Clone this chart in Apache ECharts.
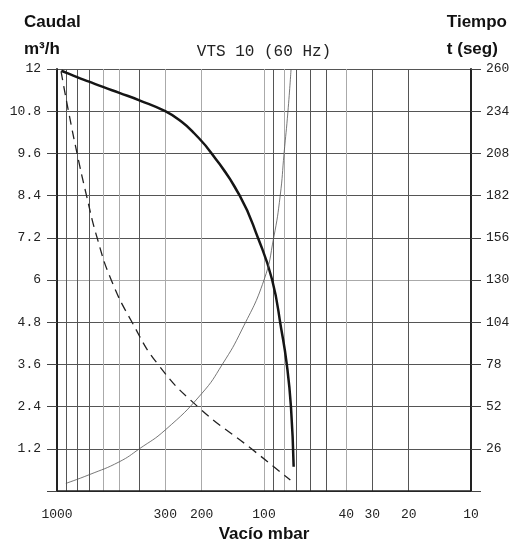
<!DOCTYPE html>
<html lang="es">
<head>
    <meta charset="UTF-8"/>
    <title>VTS 10 (60 Hz)</title>
    <script src="https://cdn.jsdelivr.net/npm/echarts@6/dist/echarts.min.js"></script>
</head>
<body style="margin:0">
<div id="main" style="width: 528px;height:543px;"></div>
<script type="text/javascript">
    // vacuum grid (mbar), log scale
    var gridPressures = [1000, 900, 800, 700, 600, 500, 400, 300, 200, 100, 90, 80, 70, 60, 50, 40, 30, 20, 10];
    var labelPressures = [1000, 300, 200, 100, 40, 30, 20, 10];

    // caudal m3/h  [pressure, value]
    var caudalSolid = [[953, 11.95], [900, 11.89], [800, 11.77], [700, 11.64], [600, 11.49], [500, 11.32],
        [400, 11.11], [300, 10.8], [250, 10.5], [218, 10.18], [179, 9.6], [131, 8.4], [107, 7.2], [91.3, 6.0],
        [82.5, 4.6], [77.6, 3.6], [74.1, 2.4], [71.9, 0.69]];
    var caudalDashed = [[956, 11.93], [880, 10.8], [800, 9.6], [720, 8.4], [640, 7.2], [547, 6.0],
        [434, 4.8], [325, 3.6], [209, 2.4], [115, 1.2], [74.6, 0.31]];
    // tiempo (seg)
    var tiempo = [[906, 4.7], [700, 10], [500, 18], [400, 26], [300, 37.6], [200, 60], [159, 78],
        [128, 99.3], [100, 130], [89.8, 156], [83.5, 182], [80, 208], [76.6, 234], [74, 260]];

    // grid lines drawn lighter in the original
    var lightLines = [600, 500, 300, 200, 100, 80, 40];
    var xGridColors = gridPressures.map(function (p) { return lightLines.indexOf(p) >= 0 ? '#aaa' : '#555'; });
    var yGridColors = ['#333', '#555', '#555', '#555', '#555', '#aaa', '#555', '#555', '#555', '#555', '#555'];

    var monoFont = 'Liberation Mono';
    var myChart = echarts.init(document.getElementById('main'));

    var option = {
        animation: false,
        backgroundColor: '#fff',
        title: [
            {text: 'Caudal\nm³/h', left: 19, top: 4,
                textStyle: {fontFamily: 'Liberation Sans', fontSize: 17, fontWeight: 'bold', color: '#111', lineHeight: 27}},
            {text: 'Tiempo\nt (seg)', right: 16, top: 4,
                textStyle: {fontFamily: 'Liberation Sans', fontSize: 17, fontWeight: 'bold', color: '#111', lineHeight: 27, align: 'right'}},
            {text: 'VTS 10 (60 Hz)', left: 'center', top: 39,
                textStyle: {fontFamily: monoFont, fontSize: 16, fontWeight: 'normal', color: '#222'}}
        ],
        grid: {left: 57, right: 57, top: 69, bottom: 52, outerBoundsMode: 'none'},
        xAxis: {
            type: 'log',
            min: 10,
            max: 1000,
            inverse: true,
            name: 'Vacío mbar',
            nameLocation: 'middle',
            nameGap: 34,
            nameTextStyle: {fontFamily: 'Liberation Sans', fontSize: 17, fontWeight: 'bold', color: '#111'},
            axisLine: {show: true, lineStyle: {color: '#222', width: 1.5}},
            axisTick: {show: false, customValues: gridPressures},
            axisLabel: {customValues: labelPressures, fontFamily: monoFont, fontSize: 13, color: '#222', margin: 17,
                formatter: function (v) { return String(v); }},
            splitLine: {show: true, lineStyle: {color: xGridColors, width: 1}}
        },
        yAxis: [
            {
                type: 'value', min: 0, max: 12, interval: 1.2, position: 'left',
                axisLine: {show: true, lineStyle: {color: '#222', width: 2}},
                axisTick: {show: true, length: 10, lineStyle: {color: '#444'}},
                axisLabel: {fontFamily: monoFont, fontSize: 13, color: '#222', margin: 16,
                    formatter: function (v) { return v === 0 ? '' : String(Math.round(v * 10) / 10); }},
                splitLine: {show: true, lineStyle: {color: yGridColors, width: 1}}
            },
            {
                type: 'value', min: 0, max: 260, interval: 26, position: 'right',
                axisLine: {show: true, lineStyle: {color: '#222', width: 2}},
                axisTick: {show: true, length: 10, lineStyle: {color: '#444'}},
                axisLabel: {fontFamily: monoFont, fontSize: 13, color: '#222', margin: 15,
                    formatter: function (v) { return v === 0 ? '' : String(v); }},
                splitLine: {show: false}
            }
        ],
        series: [
            {
                name: 'Caudal', type: 'line', yAxisIndex: 0, data: caudalSolid,
                smooth: 0.5, symbol: 'none',
                lineStyle: {color: '#151515', width: 2.5}
            },
            {
                name: 'Caudal (trazos)', type: 'line', yAxisIndex: 0, data: caudalDashed,
                smooth: 0.5, symbol: 'none',
                lineStyle: {color: '#222', width: 1.3, type: [9, 6]}
            },
            {
                name: 'Tiempo', type: 'line', yAxisIndex: 1, data: tiempo,
                smooth: 0.5, symbol: 'none',
                lineStyle: {color: '#555', width: 0.8}
            }
        ]
    };

    myChart.setOption(option);
</script>
</body>
</html>
